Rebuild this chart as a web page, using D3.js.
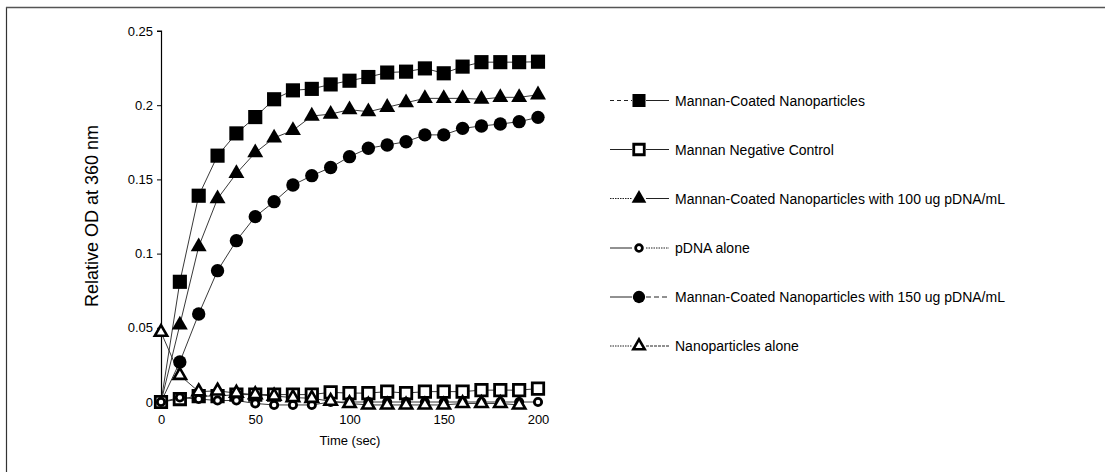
<!DOCTYPE html>
<html>
<head>
<meta charset="utf-8">
<script src="https://cdn.jsdelivr.net/npm/d3@7"></script>
<style>
  html, body { margin: 0; padding: 0; background: #fff; }
  svg { display: block; font-family: "Liberation Sans", Arial, sans-serif; }
</style>
</head>
<body>
<svg id="chart" width="1105" height="472"></svg>
<script>
// ---- data ----
const times = [0,10,20,30,40,50,60,70,80,90,100,110,120,130,140,150,160,170,180,190,200];
const mannanCoated = [0,0.081,0.139,0.166,0.181,0.192,0.204,0.210,0.211,0.214,0.2165,0.219,0.222,0.2226,0.2248,0.2215,0.226,0.229,0.229,0.229,0.2293];
const mannanNegative = [0,0.002,0.004,0.004,0.005,0.005,0.005,0.005,0.005,0.0065,0.006,0.006,0.007,0.006,0.007,0.007,0.007,0.008,0.008,0.008,0.009];
const coated100 = [0,0.052,0.1047,0.137,0.154,0.168,0.178,0.183,0.1927,0.194,0.197,0.1956,0.1986,0.2017,0.2046,0.2046,0.2046,0.204,0.2053,0.2053,0.207];
const pdnaAlone = [0,0.003,0.002,0.001,0.001,-0.001,-0.002,-0.002,-0.002,0,0,0,0,0,0,0,0,0,0,0,0];
const coated150 = [0,0.027,0.0593,0.0885,0.1087,0.1249,0.135,0.1462,0.1525,0.158,0.1653,0.171,0.1732,0.1754,0.18,0.18,0.1844,0.186,0.1873,0.1889,0.1918];
const nanoAlone = [0.047,0.018,0.007,0.0075,0.006,0.005,0.004,0.003,0.0025,0.0005,-0.001,-0.002,-0.002,-0.002,-0.002,-0.002,-0.001,-0.001,-0.001,-0.002,null];
const seriesNames = [
  "Mannan-Coated Nanoparticles",
  "Mannan Negative Control",
  "Mannan-Coated Nanoparticles with 100 ug pDNA/mL",
  "pDNA alone",
  "Mannan-Coated Nanoparticles with 150 ug pDNA/mL",
  "Nanoparticles alone"
];
const xTicks = [0,50,100,150,200];
const yTicks = [0,0.05,0.1,0.15,0.2,0.25];
const xTitle = "Time (sec)";
const yTitle = "Relative  OD at 360 nm";

// ---- styles ----
const styles = [
  {sym: d3.symbolSquare,   size: 200, fill: "#000", stroke: "none", sw: 0, legL: "4,3", legR: null, skip0: true},
  {sym: d3.symbolSquare,   size: 130, fill: "#fff", stroke: "#000", sw: 2.8, legL: null, legR: null, skip0: false},
  {sym: d3.symbolTriangle, size: 110, fill: "#000", stroke: "none", sw: 0, legL: "1.5,1", legR: null, skip0: true},
  {sym: d3.symbolCircle,   size: 42,  fill: "#fff", stroke: "#000", sw: 2.8, legL: null, legR: "1.5,1", skip0: false},
  {sym: d3.symbolCircle,   size: 140, fill: "#000", stroke: "none", sw: 0, legL: null, legR: "5,3", skip0: true},
  {sym: d3.symbolTriangle, size: 66,  fill: "#fff", stroke: "#000", sw: 2.6, legL: "1.5,1", legR: "3,1", skip0: false}
];
const allData = [mannanCoated, mannanNegative, coated100, pdnaAlone, coated150, nanoAlone];

const svg = d3.select("#chart");

// frame
svg.append("line").attr("x1",6.5).attr("x2",6.5).attr("y1",7).attr("y2",472)
  .attr("stroke","#333").attr("stroke-width",1.2);
svg.append("line").attr("x1",6).attr("x2",1105).attr("y1",7.5).attr("y2",7.5)
  .attr("stroke","#555").attr("stroke-width",1.5);

const x = d3.scaleLinear().domain([0,200]).range([161,538]);
const y = d3.scaleLinear().domain([0,0.25]).range([402,31]);

// y axis
const yAxis = d3.axisLeft(y).tickValues(yTicks).tickSize(4).tickPadding(4)
  .tickFormat(d => d === 0 ? "0" : String(+d.toFixed(2)));
const gy = svg.append("g").attr("transform","translate(161,0)").call(yAxis);
gy.select(".domain").attr("d", "M-4," + y(0.25) + "H0.5V408").attr("stroke","#000").attr("stroke-width",1.2);
gy.selectAll(".tick line").attr("stroke","#000");
gy.selectAll(".tick text").attr("font-size",13).attr("fill","#000").attr("font-family","Liberation Sans, Arial, sans-serif");

// x axis (labels only)
const xAxis = d3.axisBottom(x).tickValues(xTicks).tickSize(0).tickPadding(0);
const gx = svg.append("g").attr("transform","translate(0,415)").call(xAxis);
gx.select(".domain").remove();
gx.selectAll(".tick text").attr("font-size",13).attr("fill","#000").attr("font-family","Liberation Sans, Arial, sans-serif");

svg.append("text").attr("x",350).attr("y",445).attr("text-anchor","middle")
  .attr("font-size",13).text(xTitle);
svg.append("text").attr("transform","translate(98,216) rotate(-90)").attr("text-anchor","middle")
  .attr("font-size",18).text(yTitle);

// lines
const line = d3.line().defined(d => d[1] !== null).x(d => x(d[0])).y(d => y(d[1]));
allData.forEach((vals, i) => {
  const pts = times.map((t, k) => [t, vals[k]]);
  svg.append("path").attr("d", line(pts)).attr("fill","none")
    .attr("stroke","#222").attr("stroke-width",0.9);
});

// markers
allData.forEach((vals, i) => {
  const st = styles[i];
  const sym = d3.symbol().type(st.sym).size(st.size);
  svg.append("g").selectAll("path")
    .data(times.map((t,k) => [t, vals[k]]).filter(d => d[1] !== null && !(st.skip0 && d[0] === 0)))
    .join("path")
    .attr("d", sym)
    .attr("transform", d => `translate(${x(d[0])},${y(d[1])})`)
    .attr("fill", st.fill).attr("stroke", st.stroke).attr("stroke-width", st.sw);
});

// legend
const legY = [100.5, 149.5, 198.5, 248, 297, 346];
seriesNames.forEach((name, i) => {
  const st = styles[i];
  const g = svg.append("g").attr("transform", `translate(0,${legY[i]})`);
  g.append("line").attr("x1",610).attr("x2",632).attr("y1",0).attr("y2",0)
    .attr("stroke","#222").attr("stroke-width",1).attr("stroke-dasharray", st.legL);
  g.append("line").attr("x1",646).attr("x2",669).attr("y1",0).attr("y2",0)
    .attr("stroke","#222").attr("stroke-width",1).attr("stroke-dasharray", st.legR);
  g.append("path").attr("d", d3.symbol().type(st.sym).size(st.size*0.85)())
    .attr("transform","translate(639,0)")
    .attr("fill", st.fill).attr("stroke", st.stroke).attr("stroke-width", st.sw);
  g.append("text").attr("x",675).attr("y",5).attr("font-size",14).attr("fill","#000").text(name);
});
</script>
</body>
</html>
